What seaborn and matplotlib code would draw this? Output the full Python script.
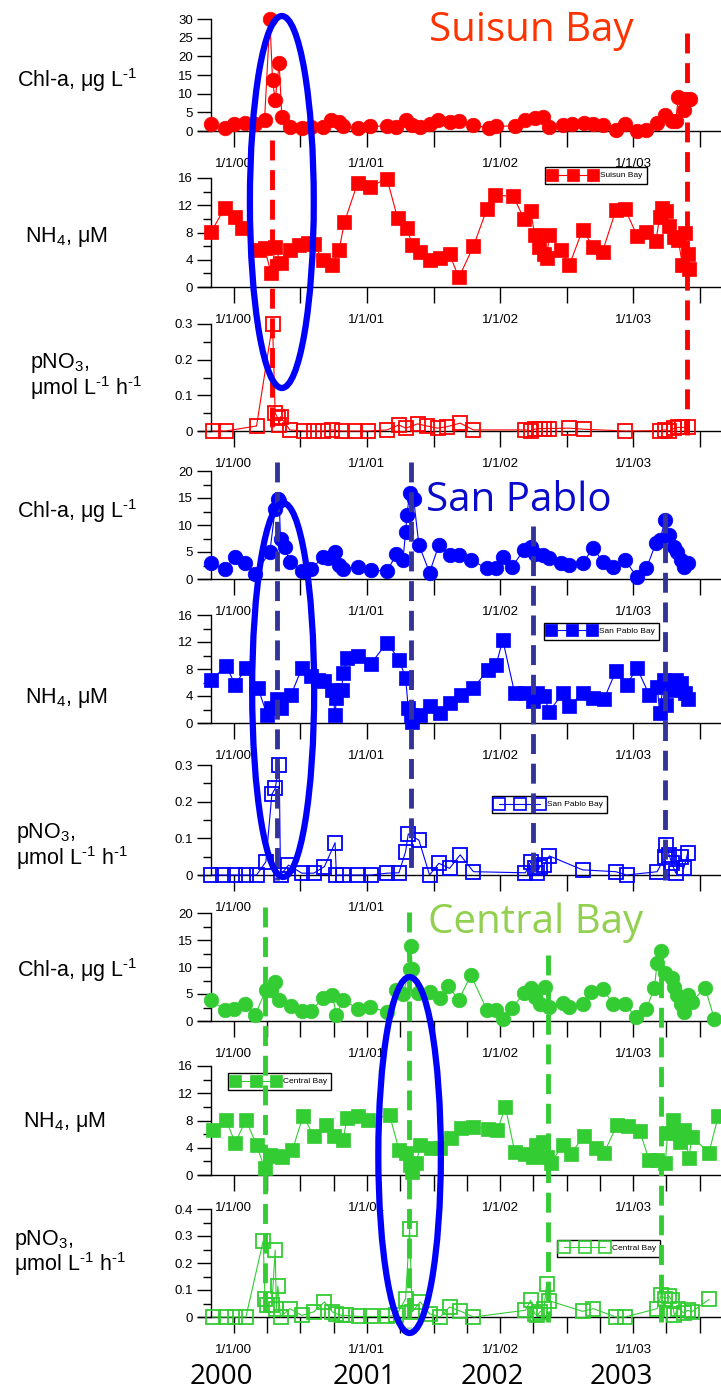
import numpy as np
import pandas as pd
import matplotlib
matplotlib.use("Agg")
import matplotlib.pyplot as plt
import seaborn as sns
from matplotlib.patches import Ellipse
from matplotlib.lines import Line2D
from matplotlib.ticker import FixedLocator, MultipleLocator, FuncFormatter

# ---------------- data (decimal years, values) ----------------
suisun_chl_t = [1999.83, 1999.93, 2000.00, 2000.08, 2000.16, 2000.23, 2000.27, 2000.29, 2000.31, 2000.34,
                2000.36, 2000.42, 2000.51, 2000.58, 2000.67, 2000.73, 2000.79, 2000.82, 2000.93, 2001.02,
                2001.15, 2001.22, 2001.29, 2001.34, 2001.40, 2001.47, 2001.53, 2001.62, 2001.69, 2001.80,
                2001.92, 2001.97, 2002.11, 2002.19, 2002.26, 2002.32, 2002.37, 2002.47, 2002.54, 2002.63,
                2002.70, 2002.77, 2002.87, 2002.94, 2003.03, 2003.10, 2003.18, 2003.24, 2003.29, 2003.32,
                2003.34, 2003.38, 2003.39, 2003.43]
suisun_chl = [1.9, 0.7, 1.9, 2.1, 1.9, 2.9, 30.0, 13.7, 8.3, 18.1,
              3.8, 1.2, 0.7, 1.2, 1.2, 2.9, 2.5, 1.3, 0.7, 1.3,
              1.3, 1.0, 2.9, 1.6, 1.2, 1.9, 2.9, 2.5, 2.8, 1.6,
              0.7, 1.3, 1.3, 2.9, 3.4, 3.8, 1.2, 1.6, 1.9, 2.1,
              1.9, 1.6, 0.3, 1.9, 0.0, 0.4, 2.2, 4.3, 2.8, 2.8,
              9.2, 5.6, 8.5, 8.5]

suisun_nh4_t = [1999.83, 1999.93, 2000.01, 2000.06, 2000.19, 2000.23, 2000.28, 2000.31, 2000.35, 2000.42,
                2000.49, 2000.56, 2000.60, 2000.67, 2000.74, 2000.79, 2000.83, 2000.93, 2001.02, 2001.15,
                2001.23, 2001.30, 2001.34, 2001.40, 2001.47, 2001.55, 2001.62, 2001.69, 2001.80, 2001.90,
                2001.96, 2002.10, 2002.18, 2002.23, 2002.26, 2002.29, 2002.33, 2002.35, 2002.37, 2002.46,
                2002.52, 2002.62, 2002.70, 2002.77, 2002.87, 2002.94, 2003.03, 2003.10, 2003.17, 2003.20,
                2003.22, 2003.25, 2003.27, 2003.31, 2003.34, 2003.37, 2003.39, 2003.41, 2003.42]
suisun_nh4 = [8.1, 11.6, 10.3, 8.6, 5.4, 5.7, 2.0, 5.9, 3.5, 5.4,
              6.2, 6.5, 6.3, 3.9, 3.2, 5.4, 9.5, 15.3, 14.7, 15.9,
              10.1, 8.6, 6.2, 5.2, 4.0, 4.3, 4.8, 1.4, 6.0, 11.4,
              13.5, 13.3, 10.0, 11.2, 7.6, 5.9, 4.9, 4.2, 7.6, 5.4,
              3.2, 8.4, 5.9, 5.2, 11.3, 11.4, 7.5, 8.1, 6.7, 10.3,
              11.6, 11.1, 8.9, 7.4, 6.9, 3.2, 7.9, 4.9, 2.7]

suisun_pno3_t = [1999.84, 1999.94, 2000.17, 2000.29, 2000.31, 2000.33, 2000.34, 2000.35, 2000.42, 2000.53,
                 2000.60, 2000.67, 2000.74, 2000.81, 2000.91, 2001.01, 2001.15, 2001.24, 2001.29, 2001.38,
                 2001.45, 2001.53, 2001.60, 2001.70, 2001.80, 2002.19, 2002.23, 2002.26, 2002.30, 2002.33,
                 2002.37, 2002.52, 2002.63, 2002.94, 2003.20, 2003.24, 2003.27, 2003.31, 2003.34, 2003.37,
                 2003.41]
suisun_pno3 = [0.0, 0.0, 0.014, 0.30, 0.05, 0.036, 0.017, 0.04, 0.003, 0.0,
               0.0, 0.0, 0.003, 0.0, 0.0, 0.0, 0.003, 0.017, 0.008, 0.02,
               0.014, 0.008, 0.012, 0.022, 0.003, 0.003, 0.001, 0.005, 0.007, 0.007,
               0.007, 0.008, 0.005, 0.0, 0.001, 0.003, 0.0, 0.008, 0.010, 0.010,
               0.010]

sp_chl_t = [1999.83, 1999.93, 2000.01, 2000.08, 2000.16, 2000.27, 2000.31, 2000.33, 2000.34, 2000.35,
            2000.38, 2000.42, 2000.51, 2000.58, 2000.67, 2000.71, 2000.76, 2000.79, 2000.82, 2000.93,
            2001.03, 2001.15, 2001.22, 2001.27, 2001.29, 2001.30, 2001.32, 2001.35, 2001.39, 2001.47,
            2001.54, 2001.62, 2001.69, 2001.78, 2001.90, 2001.97, 2002.02, 2002.09, 2002.18, 2002.23,
            2002.26, 2002.32, 2002.37, 2002.46, 2002.52, 2002.62, 2002.70, 2002.77, 2002.85, 2002.94,
            2003.03, 2003.10, 2003.17, 2003.20, 2003.24, 2003.27, 2003.31, 2003.33, 2003.36, 2003.38,
            2003.41]
sp_chl = [2.9, 1.8, 4.1, 2.9, 1.0, 5.0, 13.0, 14.9, 14.4, 7.5,
          6.0, 3.2, 1.5, 1.8, 4.1, 3.8, 5.0, 2.6, 1.8, 2.3,
          1.7, 1.4, 4.6, 3.5, 8.7, 11.8, 15.9, 14.9, 6.3, 1.2,
          6.3, 4.4, 4.4, 3.5, 2.0, 2.0, 4.1, 2.3, 5.4, 6.0,
          4.7, 4.4, 3.8, 2.9, 2.6, 2.9, 5.8, 3.2, 2.3, 3.5,
          0.3, 2.0, 6.6, 7.2, 10.9, 8.1, 6.0, 5.0, 3.5, 2.3,
          2.9]

sp_nh4_t = [1999.83, 1999.94, 2000.01, 2000.09, 2000.18, 2000.25, 2000.28, 2000.32, 2000.35, 2000.43,
            2000.51, 2000.58, 2000.63, 2000.68, 2000.74, 2000.76, 2000.77, 2000.81, 2000.82, 2000.85,
            2000.93, 2001.03, 2001.15, 2001.24, 2001.29, 2001.31, 2001.33, 2001.34, 2001.40, 2001.47,
            2001.55, 2001.62, 2001.71, 2001.80, 2001.91, 2001.97, 2002.02, 2002.11, 2002.19, 2002.25,
            2002.28, 2002.33, 2002.37, 2002.47, 2002.52, 2002.62, 2002.70, 2002.78, 2002.87, 2002.95,
            2003.03, 2003.12, 2003.18, 2003.20, 2003.23, 2003.25, 2003.29, 2003.32, 2003.36, 2003.39,
            2003.41]
sp_nh4 = [6.3, 8.5, 5.7, 8.1, 5.2, 1.2, 2.2, 3.5, 2.2, 4.2,
          8.1, 6.9, 6.4, 6.2, 4.9, 1.2, 3.7, 4.9, 7.4, 9.6,
          9.9, 8.8, 11.9, 9.4, 6.7, 2.2, 1.2, 0.2, 1.2, 2.5,
          1.5, 3.0, 4.2, 5.2, 7.9, 8.6, 12.3, 4.4, 4.4, 3.2,
          4.4, 4.0, 1.7, 4.4, 2.5, 4.4, 3.7, 3.5, 7.7, 5.7,
          8.1, 4.2, 5.4, 1.5, 6.4, 2.7, 4.9, 6.4, 5.9, 4.4,
          3.5]

sp_pno3_t = [1999.83, 1999.92, 2000.01, 2000.09, 2000.17, 2000.24, 2000.285, 2000.31, 2000.34, 2000.35,
             2000.41, 2000.51, 2000.60, 2000.68, 2000.76, 2000.77, 2000.82, 2000.93, 2001.03, 2001.15,
             2001.24, 2001.29, 2001.31, 2001.39, 2001.47, 2001.54, 2001.62, 2001.70, 2001.80, 2002.19,
             2002.23, 2002.26, 2002.28, 2002.30, 2002.33, 2002.37, 2002.62, 2002.87, 2002.95, 2003.18,
             2003.24, 2003.25, 2003.27, 2003.29, 2003.32, 2003.36, 2003.38, 2003.41]
sp_pno3 = [0.0, 0.0, 0.0, 0.0, 0.0, 0.036, 0.22, 0.236, 0.30, 0.0,
           0.027, 0.005, 0.005, 0.023, 0.088, 0.0, 0.0, 0.0, 0.0, 0.005,
           0.006, 0.064, 0.112, 0.095, 0.0, 0.032, 0.018, 0.055, 0.009, 0.006,
           0.036, 0.018, 0.006, 0.023, 0.027, 0.052, 0.014, 0.009, 0.0, 0.009,
           0.05, 0.082, 0.055, 0.032, 0.005, 0.05, 0.018, 0.06]

cb_chl_t = [1999.83, 1999.93, 2000.00, 2000.08, 2000.16, 2000.24, 2000.28, 2000.31, 2000.34, 2000.43,
            2000.51, 2000.58, 2000.67, 2000.74, 2000.77, 2000.82, 2000.93, 2001.02, 2001.15, 2001.22,
            2001.27, 2001.32, 2001.33, 2001.34, 2001.38, 2001.47, 2001.55, 2001.61, 2001.69, 2001.78,
            2001.90, 2001.97, 2002.02, 2002.09, 2002.18, 2002.23, 2002.26, 2002.30, 2002.34, 2002.37,
            2002.47, 2002.52, 2002.62, 2002.68, 2002.77, 2002.85, 2002.94, 2003.02, 2003.10, 2003.16,
            2003.18, 2003.21, 2003.24, 2003.29, 2003.31, 2003.33, 2003.36, 2003.38, 2003.41, 2003.44,
            2003.54, 2003.61]
cb_chl = [3.9, 2.0, 2.3, 3.2, 1.1, 5.8, 5.7, 7.3, 3.9, 2.7,
          1.9, 1.9, 4.2, 4.8, 1.1, 3.9, 2.3, 2.6, 1.7, 5.8,
          5.0, 9.6, 13.9, 9.6, 5.2, 5.3, 4.3, 6.5, 3.9, 8.5,
          2.1, 2.1, 0.4, 2.5, 5.1, 6.2, 4.5, 3.2, 6.3, 2.6,
          3.4, 2.6, 3.1, 5.4, 6.0, 3.1, 3.1, 0.7, 2.3, 6.2,
          10.8, 12.9, 8.8, 7.9, 6.3, 4.8, 3.2, 1.7, 4.8, 3.5,
          6.2, 0.4]

cb_nh4_t = [1999.84, 1999.94, 2000.01, 2000.09, 2000.17, 2000.23, 2000.27, 2000.32, 2000.36, 2000.44,
            2000.52, 2000.60, 2000.69, 2000.75, 2000.82, 2000.85, 2000.93, 2001.01, 2001.17, 2001.24,
            2001.29, 2001.32, 2001.34, 2001.37, 2001.40, 2001.48, 2001.55, 2001.63, 2001.71, 2001.80,
            2001.91, 2001.98, 2002.04, 2002.11, 2002.19, 2002.25, 2002.27, 2002.32, 2002.35, 2002.38,
            2002.47, 2002.53, 2002.63, 2002.72, 2002.78, 2002.88, 2002.96, 2003.05, 2003.12, 2003.18,
            2003.24, 2003.26, 2003.30, 2003.32, 2003.35, 2003.38, 2003.42, 2003.44, 2003.57, 2003.64]
cb_nh4 = [6.6, 8.1, 4.7, 8.1, 4.4, 1.0, 2.9, 2.8, 2.7, 3.7,
          8.7, 5.7, 7.4, 5.7, 5.1, 8.3, 8.7, 8.1, 8.8, 3.7,
          3.3, 1.5, 0.5, 1.7, 4.4, 3.9, 3.9, 5.4, 6.9, 7.1,
          6.7, 6.6, 10.0, 3.4, 3.1, 2.7, 4.4, 4.9, 2.7, 1.7,
          4.4, 3.1, 5.7, 3.9, 3.2, 7.4, 7.2, 6.4, 2.2, 2.2,
          1.7, 6.1, 8.1, 6.1, 4.9, 6.6, 2.5, 5.6, 3.3, 8.7]

cb_pno3_t = [1999.84, 1999.94, 2000.01, 2000.09, 2000.22, 2000.233, 2000.25, 2000.285, 2000.31, 2000.319,
             2000.33, 2000.35, 2000.42, 2000.51, 2000.60, 2000.68, 2000.74, 2000.77, 2000.81, 2000.84,
             2000.94, 2001.03, 2001.15, 2001.22, 2001.29, 2001.32, 2001.34, 2001.40, 2001.47, 2001.55,
             2001.62, 2001.70, 2001.80, 2002.19, 2002.23, 2002.26, 2002.28, 2002.30, 2002.33, 2002.35,
             2002.37, 2002.62, 2002.70, 2002.87, 2002.94, 2003.18, 2003.21, 2003.24, 2003.27, 2003.29,
             2003.31, 2003.34, 2003.38, 2003.41, 2003.44, 2003.57]
cb_pno3 = [0.0, 0.0, 0.0, 0.0, 0.282, 0.068, 0.043, 0.043, 0.248, 0.031,
           0.114, 0.0, 0.031, 0.006, 0.019, 0.056, 0.019, 0.012, 0.006, 0.006,
           0.002, 0.002, 0.002, 0.006, 0.068, 0.325, 0.019, 0.056, 0.012, 0.0,
           0.037, 0.022, 0.0, 0.025, 0.062, 0.012, 0.006, 0.019, 0.031, 0.124,
           0.06, 0.021, 0.031, 0.0, 0.0, 0.031, 0.081, 0.068, 0.077, 0.062,
           0.006, 0.031, 0.015, 0.025, 0.019, 0.065]

x_tick_labels = ["1/1/00", "1/1/01", "1/1/02", "1/1/03"]
year_labels = ["2000", "2001", "2002", "2003"]
bay_titles = ["Suisun Bay", "San Pablo", "Central Bay"]
legend_labels = ["Suisun Bay", "San Pablo Bay", "San Pablo Bay", "Central Bay", "Central Bay"]

# bloom markers (decimal years)
suisun_blooms = [2000.286, 2003.406]
sanpablo_blooms = [2000.32, 2001.33, 2002.25, 2003.24]
central_blooms = [2000.23, 2001.316, 2002.36, 2003.21]
circled_events = [2000.36, 2000.37, 2001.32]

# ---------------- style ----------------
sns.set_style("ticks")
plt.rcParams['font.family'] = ['Liberation Sans', 'DejaVu Sans']
plt.rcParams['mathtext.fontset'] = 'custom'
plt.rcParams['mathtext.rm'] = 'Liberation Sans'
plt.rcParams['mathtext.it'] = 'Liberation Sans:italic'
plt.rcParams['mathtext.bf'] = 'Liberation Sans:bold'
for k in ['axes.edgecolor', 'xtick.color', 'ytick.color', 'text.color', 'axes.labelcolor']:
    plt.rcParams[k] = 'black'

W, H = 721, 1392
fig = plt.figure(figsize=(W / 100, H / 100), dpi=100)
fig.patch.set_facecolor('white')

XL, XR = 198, 721
XMIN, XMAX = 1999.73, 2003.66

RED = '#FF0000'
BLUE = '#0000FF'
GREEN = '#33CC33'


def fx(px):
    return px / W


def fy(py):
    return 1 - py / H


def make_axes(top, bottom):
    return fig.add_axes([fx(XL), fy(bottom), fx(XR) - fx(XL), (bottom - top) / H])


fmt = FuncFormatter(lambda v, p: '%g' % round(v, 4))

panels = [
    # top, bottom, ymax, major, minor, t, v, color, marker, filled, xstep
    (19, 131, 30, 5, 5, suisun_chl_t, suisun_chl, RED, 'o', True, 0.5),
    (178, 287, 16, 4, 2, suisun_nh4_t, suisun_nh4, RED, 's', True, 0.5),
    (324, 431, 0.3, 0.1, 0.05, suisun_pno3_t, suisun_pno3, RED, 's', False, 0.5),
    (471, 579, 20, 5, 2.5, sp_chl_t, sp_chl, BLUE, 'o', True, 0.5),
    (615, 723, 16, 4, 2, sp_nh4_t, sp_nh4, BLUE, 's', True, 0.5),
    (765, 875, 0.3, 0.1, 0.05, sp_pno3_t, sp_pno3, BLUE, 's', False, 0.5),
    (913, 1021, 20, 5, 2.5, cb_chl_t, cb_chl, GREEN, 'o', True, 0.25),
    (1066, 1175, 16, 4, 2, cb_nh4_t, cb_nh4, GREEN, 's', True, 0.25),
    (1209, 1317, 0.4, 0.1, 0.05, cb_pno3_t, cb_pno3, GREEN, 's', False, 0.25),
]
# tick labels hidden behind the "Central Bay" title in the original
hidden_labels = {5: ["1/1/02", "1/1/03"]}

axes = []
for idx, (top, bot, ymax, maj, mnr, t, v, col, mk, filled, xstep) in enumerate(panels):
    ax = make_axes(top, bot)
    ax.set_facecolor('none')
    df = pd.DataFrame({'t': t, 'v': v})
    sns.lineplot(data=df, x='t', y='v', ax=ax, color=col, linewidth=0.8,
                 marker=mk, markersize=(10.5 if filled else 9.5),
                 markerfacecolor=(col if filled else 'none'),
                 markeredgecolor=col, markeredgewidth=(0.5 if filled else 1.3),
                 sort=False, estimator=None, legend=False, clip_on=False, zorder=3)
    ax.set_xlabel('')
    ax.set_ylabel('')
    ax.set_xlim(XMIN, XMAX)
    ax.set_ylim(0, ymax)
    for s in ['top', 'right']:
        ax.spines[s].set_visible(False)
    ax.spines['left'].set_position(('axes', (211 - XL) / (XR - XL)))
    ax.spines['left'].set_linewidth(1)
    ax.spines['bottom'].set_linewidth(1)
    ax.yaxis.set_major_locator(MultipleLocator(maj))
    ax.yaxis.set_minor_locator(MultipleLocator(mnr))
    ax.yaxis.set_major_formatter(fmt)
    ax.tick_params(axis='y', which='major', length=10, width=1, direction='out', labelsize=9.5, pad=3)
    ax.tick_params(axis='y', which='minor', length=6, width=1, direction='out')
    xt = np.arange(2000, 2003.76, xstep)
    xl = []
    for x in xt:
        if abs(x - round(x)) < 1e-6:
            lab = x_tick_labels[int(round(x)) - 2000]
            xl.append('' if lab in hidden_labels.get(idx, []) else lab)
        else:
            xl.append('')
    ax.xaxis.set_major_locator(FixedLocator(xt))
    ax.set_xticklabels(xl)
    ax.xaxis.set_minor_locator(FixedLocator([]))
    ax.tick_params(axis='x', which='major', length=11.5, width=1, direction='out', labelsize=9.5, pad=8)
    ax.grid(False)
    axes.append(ax)

# ---------------- legends ----------------
legend_specs = [(1, 545, 167, RED, True), (4, 544, 623, BLUE, True), (5, 492, 796, BLUE, False),
                (7, 228, 1073, GREEN, True), (8, 557, 1240, GREEN, False)]
for (i, lx, ly, col, filled), lab in zip(legend_specs, legend_labels):
    h = Line2D([0], [0], color=col, lw=0.8, marker='s', markersize=8.5,
               markerfacecolor=(col if filled else 'none'), markeredgecolor=col,
               markeredgewidth=(0.5 if filled else 1.2))
    leg = axes[i].legend(handles=[h], labels=[lab], loc='upper left',
                         bbox_to_anchor=(fx(lx), fy(ly)), bbox_transform=fig.transFigure,
                         numpoints=3, handlelength=5.5, handletextpad=0.5, borderpad=0.55,
                         borderaxespad=0, fontsize=6, frameon=True, fancybox=False,
                         framealpha=1, edgecolor='black')
    leg.get_frame().set_linewidth(1.0)

# ---------------- left axis labels ----------------
lab_fs = 15.5
chl_lab = "Chl-a, μg L$^{\\mathrm{\u20101}}$"
nh4_lab = "NH$_{\\mathrm{4}}$, μM"
pno3_l1 = "pNO$_{\\mathrm{3}}$,"
pno3_l2 = "μmol L$^{\\mathrm{\u20101}}$ h$^{\\mathrm{\u20101}}$"
for (x, y) in [(17, 87), (17, 518), (17, 977)]:
    fig.text(fx(x), fy(y), chl_lab, fontsize=lab_fs, va='baseline', ha='left')
for (x, y) in [(25, 242), (25, 703), (23, 1127)]:
    fig.text(fx(x), fy(y), nh4_lab, fontsize=lab_fs, va='baseline', ha='left')
for (x, y1, y2) in [(30, 368, 395), (16, 838, 865), (14, 1245, 1271)]:
    fig.text(fx(x), fy(y1), pno3_l1, fontsize=lab_fs, va='baseline', ha='left')
    fig.text(fx(x), fy(y2), pno3_l2, fontsize=lab_fs, va='baseline', ha='left')

# ---------------- titles and years ----------------
title_specs = [(429, 41, '#FF3300'), (426, 511, '#0A0ACC'), (428, 933, '#92D050')]
for (x, y, c), s in zip(title_specs, bay_titles):
    fig.text(fx(x), fy(y), s, fontsize=29, color=c, family=['Open Sans', 'DejaVu Sans'],
             va='baseline', ha='left', zorder=4)
for x, s in zip([221, 364, 492, 621], year_labels):
    fig.text(fx(x), fy(1384), s, fontsize=20, family=['Open Sans', 'DejaVu Sans'],
             va='baseline', ha='center')

# ---------------- overlay: bloom lines and ellipses ----------------
ov = fig.add_axes([fx(XL), 0, fx(XR) - fx(XL), 1])
ov.set_xlim(XMIN, XMAX)
ov.set_ylim(H, 0)
ov.axis('off')
ov.patch.set_alpha(0)

dash = (0, (4.1, 2.0))
line_specs = [
    (suisun_blooms, [(140, 433), (33, 435)], RED),
    (sanpablo_blooms, [(462, 880), (462, 872), (526, 876), (513, 880)], '#333399'),
    (central_blooms, [(907, 1322), (912, 1328), (955, 1322), (948, 1322)], GREEN),
]
for dates, spans, col in line_specs:
    for d, (y0, y1) in zip(dates, spans):
        ov.plot([d, d], [y0, y1], color=col, lw=3.5, linestyle=dash, solid_capstyle='butt',
                dash_capstyle='butt', zorder=5, clip_on=False)

ell_specs = [(202, 0.48, 372), (690, 0.466, 374), (1155, 0.47, 356)]
for c, (yc, w, h) in zip(circled_events, ell_specs):
    ov.add_patch(Ellipse((c, yc), w, h, fill=False, edgecolor='#0000FF', lw=4.5,
                         zorder=6, clip_on=False))

fig.savefig('out.png', dpi=100, facecolor='white')
